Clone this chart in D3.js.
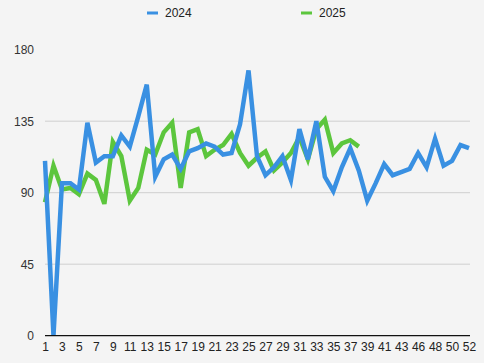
<!DOCTYPE html>
<html>
<head>
<meta charset="utf-8">
<script src="https://cdn.jsdelivr.net/npm/d3@7"></script>
<style>
  body { margin: 0; background: #f4f4f4; }
  svg { display: block; font-family: Helvetica, Arial, "Liberation Sans", sans-serif; }
</style>
</head>
<body>
<svg id="chart" width="484" height="363"></svg>
<script>
// weeks on the x axis (45 is missing in the source)
var weeks = [1,2,3,4,5,6,7,8,9,10,11,12,13,14,15,16,17,18,19,20,21,22,23,24,25,26,
  27,28,29,30,31,32,33,34,35,36,37,38,39,40,41,42,43,44,46,47,48,49,50,51,52];

var values2024 = [110,0,96,96,92,134,109,113,113,126,119,138,158,100,111,114,105,116,118,121,
  119,114,115,133,167,113,101,106,113,98,130,111,135,100,91,106,118,104,85,96,
  108,101,103,105,115,106,124,107,110,120,118];

var values2025 = [84,107,92,93,89,102,98,83,122,113,85,93,117,114,128,134,93,128,130,113,
  117,120,127,115,107,112,116,104,109,115,125,111,130,136,115,121,123,119];

var yTicks = [0,45,90,135,180];

var svg = d3.select("#chart");

var x = d3.scalePoint()
  .domain(weeks)
  .range([45, 469]);

var y = d3.scaleLinear()
  .domain([0, 180])
  .range([335.7, 49.7]);

// gridlines
svg.append("g")
  .selectAll("line")
  .data(yTicks.filter(function(d){ return d > 0 && d < 180; }))
  .enter()
  .append("line")
  .attr("x1", 45)
  .attr("x2", 470)
  .attr("y1", function(d){ return y(d); })
  .attr("y2", function(d){ return y(d); })
  .attr("stroke", "#cfcfcf")
  .attr("stroke-width", 1);

// y labels
var yAxis = svg.append("g")
  .attr("transform", "translate(34,0)")
  .call(d3.axisLeft(y).tickValues(yTicks).tickSize(0).tickPadding(0));
yAxis.select(".domain").remove();
yAxis.selectAll("text")
  .attr("font-size", 12)
  .attr("fill", "#333")
  .style("font-family", "Helvetica, Arial, 'Liberation Sans', sans-serif");

// x labels, every other week
var xAxis = svg.append("g")
  .attr("transform", "translate(0," + y(0) + ")")
  .call(d3.axisBottom(x)
    .tickValues(weeks.filter(function(d, i){ return i % 2 == 0; }))
    .tickSize(0)
    .tickPadding(7));
xAxis.select(".domain").remove();
xAxis.selectAll("text")
  .attr("font-size", 12)
  .attr("fill", "#222")
  .style("font-family", "Helvetica, Arial, 'Liberation Sans', sans-serif");

var line = d3.line()
  .x(function(d, i){ return x(weeks[i]); })
  .y(function(d){ return y(d); });

svg.append("path")
  .datum(values2025)
  .attr("d", line)
  .attr("fill", "none")
  .attr("stroke", "#5cc63d")
  .attr("stroke-width", 4.5)
  .attr("stroke-linejoin", "miter");

svg.append("path")
  .datum(values2024)
  .attr("d", line)
  .attr("fill", "none")
  .attr("stroke", "#3990e2")
  .attr("stroke-width", 4.5)
  .attr("stroke-linejoin", "miter");

// baseline
svg.append("line")
  .attr("x1", 45)
  .attr("x2", 470)
  .attr("y1", y(0))
  .attr("y2", y(0))
  .attr("stroke", "#111")
  .attr("stroke-width", 1.2);

// legend
var legend = [
  {name: "2024", color: "#3990e2", x: 147},
  {name: "2025", color: "#5cc63d", x: 301}
];
var lg = svg.append("g").selectAll("g")
  .data(legend)
  .enter()
  .append("g")
  .attr("transform", function(d){ return "translate(" + d.x + ",13)"; });
lg.append("line")
  .attr("x1", 0).attr("x2", 11)
  .attr("stroke", function(d){ return d.color; })
  .attr("stroke-width", 3);
lg.append("text")
  .attr("x", 18)
  .attr("dy", "0.35em")
  .attr("font-size", 12)
  .attr("fill", "#222")
  .text(function(d){ return d.name; });
</script>
</body>
</html>
